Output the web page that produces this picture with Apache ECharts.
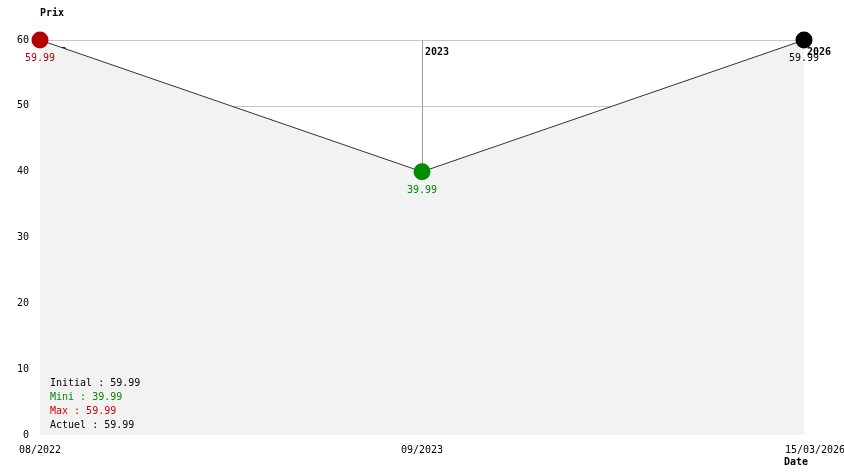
<!DOCTYPE html>
<html>
<head>
<meta charset="utf-8">
<script src="https://cdn.jsdelivr.net/npm/echarts@6/dist/echarts.min.js"></script>
<style>html,body{margin:0;padding:0;background:#fff}#c{width:844px;height:474px}</style>
</head>
<body>
<div id="c"></div>
<script>
const categories = ['08/2022', '09/2023', '15/03/2026'];
const prices = [59.99, 39.99, 59.99];
const pointColors = ['#b30000', '#008c00', '#000000'];
const yearMarks = [
  { cat: '08/2022', label: '2022', edge: true },
  { cat: '09/2023', label: '2023', edge: false },
  { cat: '15/03/2026', label: '2026', edge: true }
];
const yTicks = { min: 0, max: 60, interval: 10 };

const FONT = 'DejaVu Sans Mono';
const initial = prices[0];
const mini = Math.min(...prices);
const maxi = Math.max(...prices);
const actuel = prices[prices.length - 1];
const fmt = v => v.toFixed(2);

const chart = echarts.init(document.getElementById('c'), null, { renderer: 'canvas' });
chart.setOption({
  animation: false,
  backgroundColor: '#ffffff',
  textStyle: { fontFamily: FONT, fontSize: 10 },
  grid: { left: 40, right: 40, top: 40, bottom: 39, outerBoundsMode: 'none', containLabel: false },
  xAxis: {
    type: 'category',
    data: categories,
    boundaryGap: false,
    axisLine: { show: false },
    axisTick: { show: false },
    splitLine: { show: false },
    axisLabel: {
      color: '#000', fontFamily: FONT, fontSize: 10, margin: 10,
      interval: 0,
      formatter: (v, i) => i === categories.length - 1 ? '{r|' + v + '}' : v,
      rich: { r: { padding: [0, 0, 0, 22], fontFamily: FONT, fontSize: 10, color: '#000' } }
    },
    name: 'Date',
    nameLocation: 'end',
    nameGap: -20,
    nameTextStyle: { color: '#000', fontFamily: FONT, fontSize: 10, fontWeight: 'bold', align: 'left', verticalAlign: 'top', padding: [22, 0, 0, 0] }
  },
  yAxis: {
    type: 'value',
    min: yTicks.min, max: yTicks.max, interval: yTicks.interval,
    axisLine: { show: false },
    axisTick: { show: false },
    axisLabel: { color: '#000', fontFamily: FONT, fontSize: 10, margin: 11 },
    splitLine: { show: true, lineStyle: { color: ['rgba(0,0,0,0)', '#c8c8c8', '#c8c8c8', '#c8c8c8', '#c8c8c8', '#c8c8c8', '#c8c8c8'], width: 1 } },
    name: 'Prix',
    nameLocation: 'end',
    nameGap: 22,
    nameTextStyle: { color: '#000', fontFamily: FONT, fontSize: 10, fontWeight: 'bold', align: 'left' }
  },
  series: [{
    type: 'line',
    z: 2,
    data: prices.map((v, i) => ({ value: v, itemStyle: { color: pointColors[i] }, label: { color: pointColors[i] } })),
    symbol: 'circle',
    symbolSize: 17,
    lineStyle: { color: '#333', width: 1 },
    areaStyle: { color: '#f2f2f2', opacity: 1 },
    label: { show: true, position: 'bottom', distance: 5, fontFamily: FONT, fontSize: 10, formatter: p => fmt(p.value) },
    markLine: {
      z: 1,
      silent: true,
      symbol: ['none', 'none'],
      lineStyle: { color: '#999', width: 1, type: 'solid' },
      label: {
        show: true, position: 'end', distance: -7, align: 'left', verticalAlign: 'top',
        padding: [0, 0, 0, 3],
        color: '#000', fontFamily: FONT, fontSize: 10, fontWeight: 'bold',
        formatter: p => p.name
      },
      data: yearMarks.map(m => ({ xAxis: m.cat, name: m.label, lineStyle: m.edge ? { color: 'rgba(0,0,0,0)' } : {} }))
    }
  }],
  graphic: [{
    type: 'text',
    left: 50,
    top: 378,
    z: 10,
    style: {
      text: [
        '{k|Initial : ' + fmt(initial) + '}',
        '{g|Mini : ' + fmt(mini) + '}',
        '{r|Max : ' + fmt(maxi) + '}',
        '{k|Actuel : ' + fmt(actuel) + '}'
      ].join('\n'),
      font: '10px ' + FONT,
      rich: {
        k: { fill: '#000', fontFamily: FONT, fontSize: 10, lineHeight: 14 },
        g: { fill: '#008c00', fontFamily: FONT, fontSize: 10, lineHeight: 14 },
        r: { fill: '#cc0000', fontFamily: FONT, fontSize: 10, lineHeight: 14 }
      }
    }
  }]
});
</script>
</body>
</html>
